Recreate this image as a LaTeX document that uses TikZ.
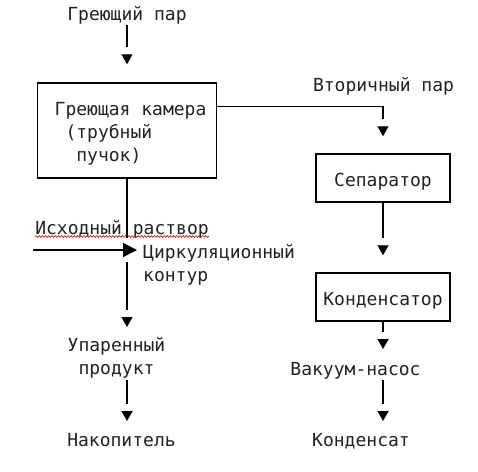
\documentclass[tikz,border=0pt]{standalone}
\usepackage{fontspec}
\newfontfamily\dmono{DejaVu Sans Mono}
\usetikzlibrary{arrows.meta,calc,decorations.pathmorphing,decorations.markings}
\definecolor{ink}{HTML}{222222}
\begin{document}
\begin{tikzpicture}[x=1pt,y=-1pt,
  lbl/.style={font=\dmono\fontsize{18}{23}\selectfont, inner sep=0pt, text=ink},
  blk/.style={draw=black, line width=1.5pt, font=\dmono\fontsize{18}{23}\selectfont, text=ink, inner sep=0pt, text height=17pt, text depth=0pt},
  ln/.style={draw=black, line width=1.3pt},
  arrd/.style={ln, shorten >=#1+17pt, postaction={decorate, decoration={markings, mark=at position -#1 with {\arrow{Triangle[length=10pt,width=11pt]}}}}},
  arrr/.style={ln, -{Triangle[length=14pt,width=14pt]}},
  spell/.style={draw=red!85!black, line width=0.6pt, decorate, decoration={snake, amplitude=0.9pt, segment length=3.2pt}}
]
\useasboundingbox (0,0) rectangle (478,471);
% nodes
\node[lbl, anchor=base] (gp) at (127,20) {Греющий пар};
\node[blk, minimum width=179pt, minimum height=95pt] (cam) at (127,130.5) {};
\node[lbl, anchor=base west, align=left] (camt) at (54.5,161) {Греющая камера\\\phantom{0}(трубный\\\phantom{00}пучок)};
\node[lbl, anchor=base] (vp) at (383.5,91) {Вторичный пар};
\node[blk, minimum width=134pt, minimum height=48pt] (sep) at (383,178) {Сепаратор};
\node[blk, minimum width=134pt, minimum height=48pt] (kon) at (383,297) {Конденсатор};
\node[lbl, anchor=base] (vak) at (355.5,375) {Вакуум-насос};
\node[lbl, anchor=base] (kns) at (361,446) {Конденсат};
\node[lbl, anchor=base] (ish) at (122,234) {Исходный раствор};
\node[lbl, anchor=base west, align=left] (cirk) at (143,281) {Циркуляционный\\контур};
\node[lbl, anchor=base, align=center] (up) at (116.5,374) {Упаренный\\продукт};
\node[lbl, anchor=base] (nak) at (121.5,446) {Накопитель};
\coordinate (jn) at (127,250);
\coordinate (src) at (33,250);
% spell-check underline
\draw[spell] ($(ish.base west)+(0,2.5)$) -- ($(ish.base east)+(0,2.5)$);
% connectors
\draw[arrd=18pt, shorten <=5pt] (gp.base) -- (cam.north);
\draw[arrd=17pt] ($(cam.north east)!0.25!(cam.south east)$) -| (sep.north);
\draw[arrd=17pt] (sep.south) -- (kon.north);
\draw[arrd=26pt] (kon.south) -- (kon.south |- vak.base);
\draw[arrd=25pt, shorten <=5pt] (kon.south |- vak.base) -- (kon.south |- kns.base);
\draw[ln, shorten >=12pt] (cam.south) -- (jn);
\draw[arrr, shorten >=-10pt] (src) -- (jn);
\draw[arrd=47pt, shorten <=12pt] (jn) -- (jn |- up.base);
\draw[arrd=25pt, shorten <=6pt] (jn |- up.base) -- (jn |- nak.base);
\end{tikzpicture}
\end{document}
